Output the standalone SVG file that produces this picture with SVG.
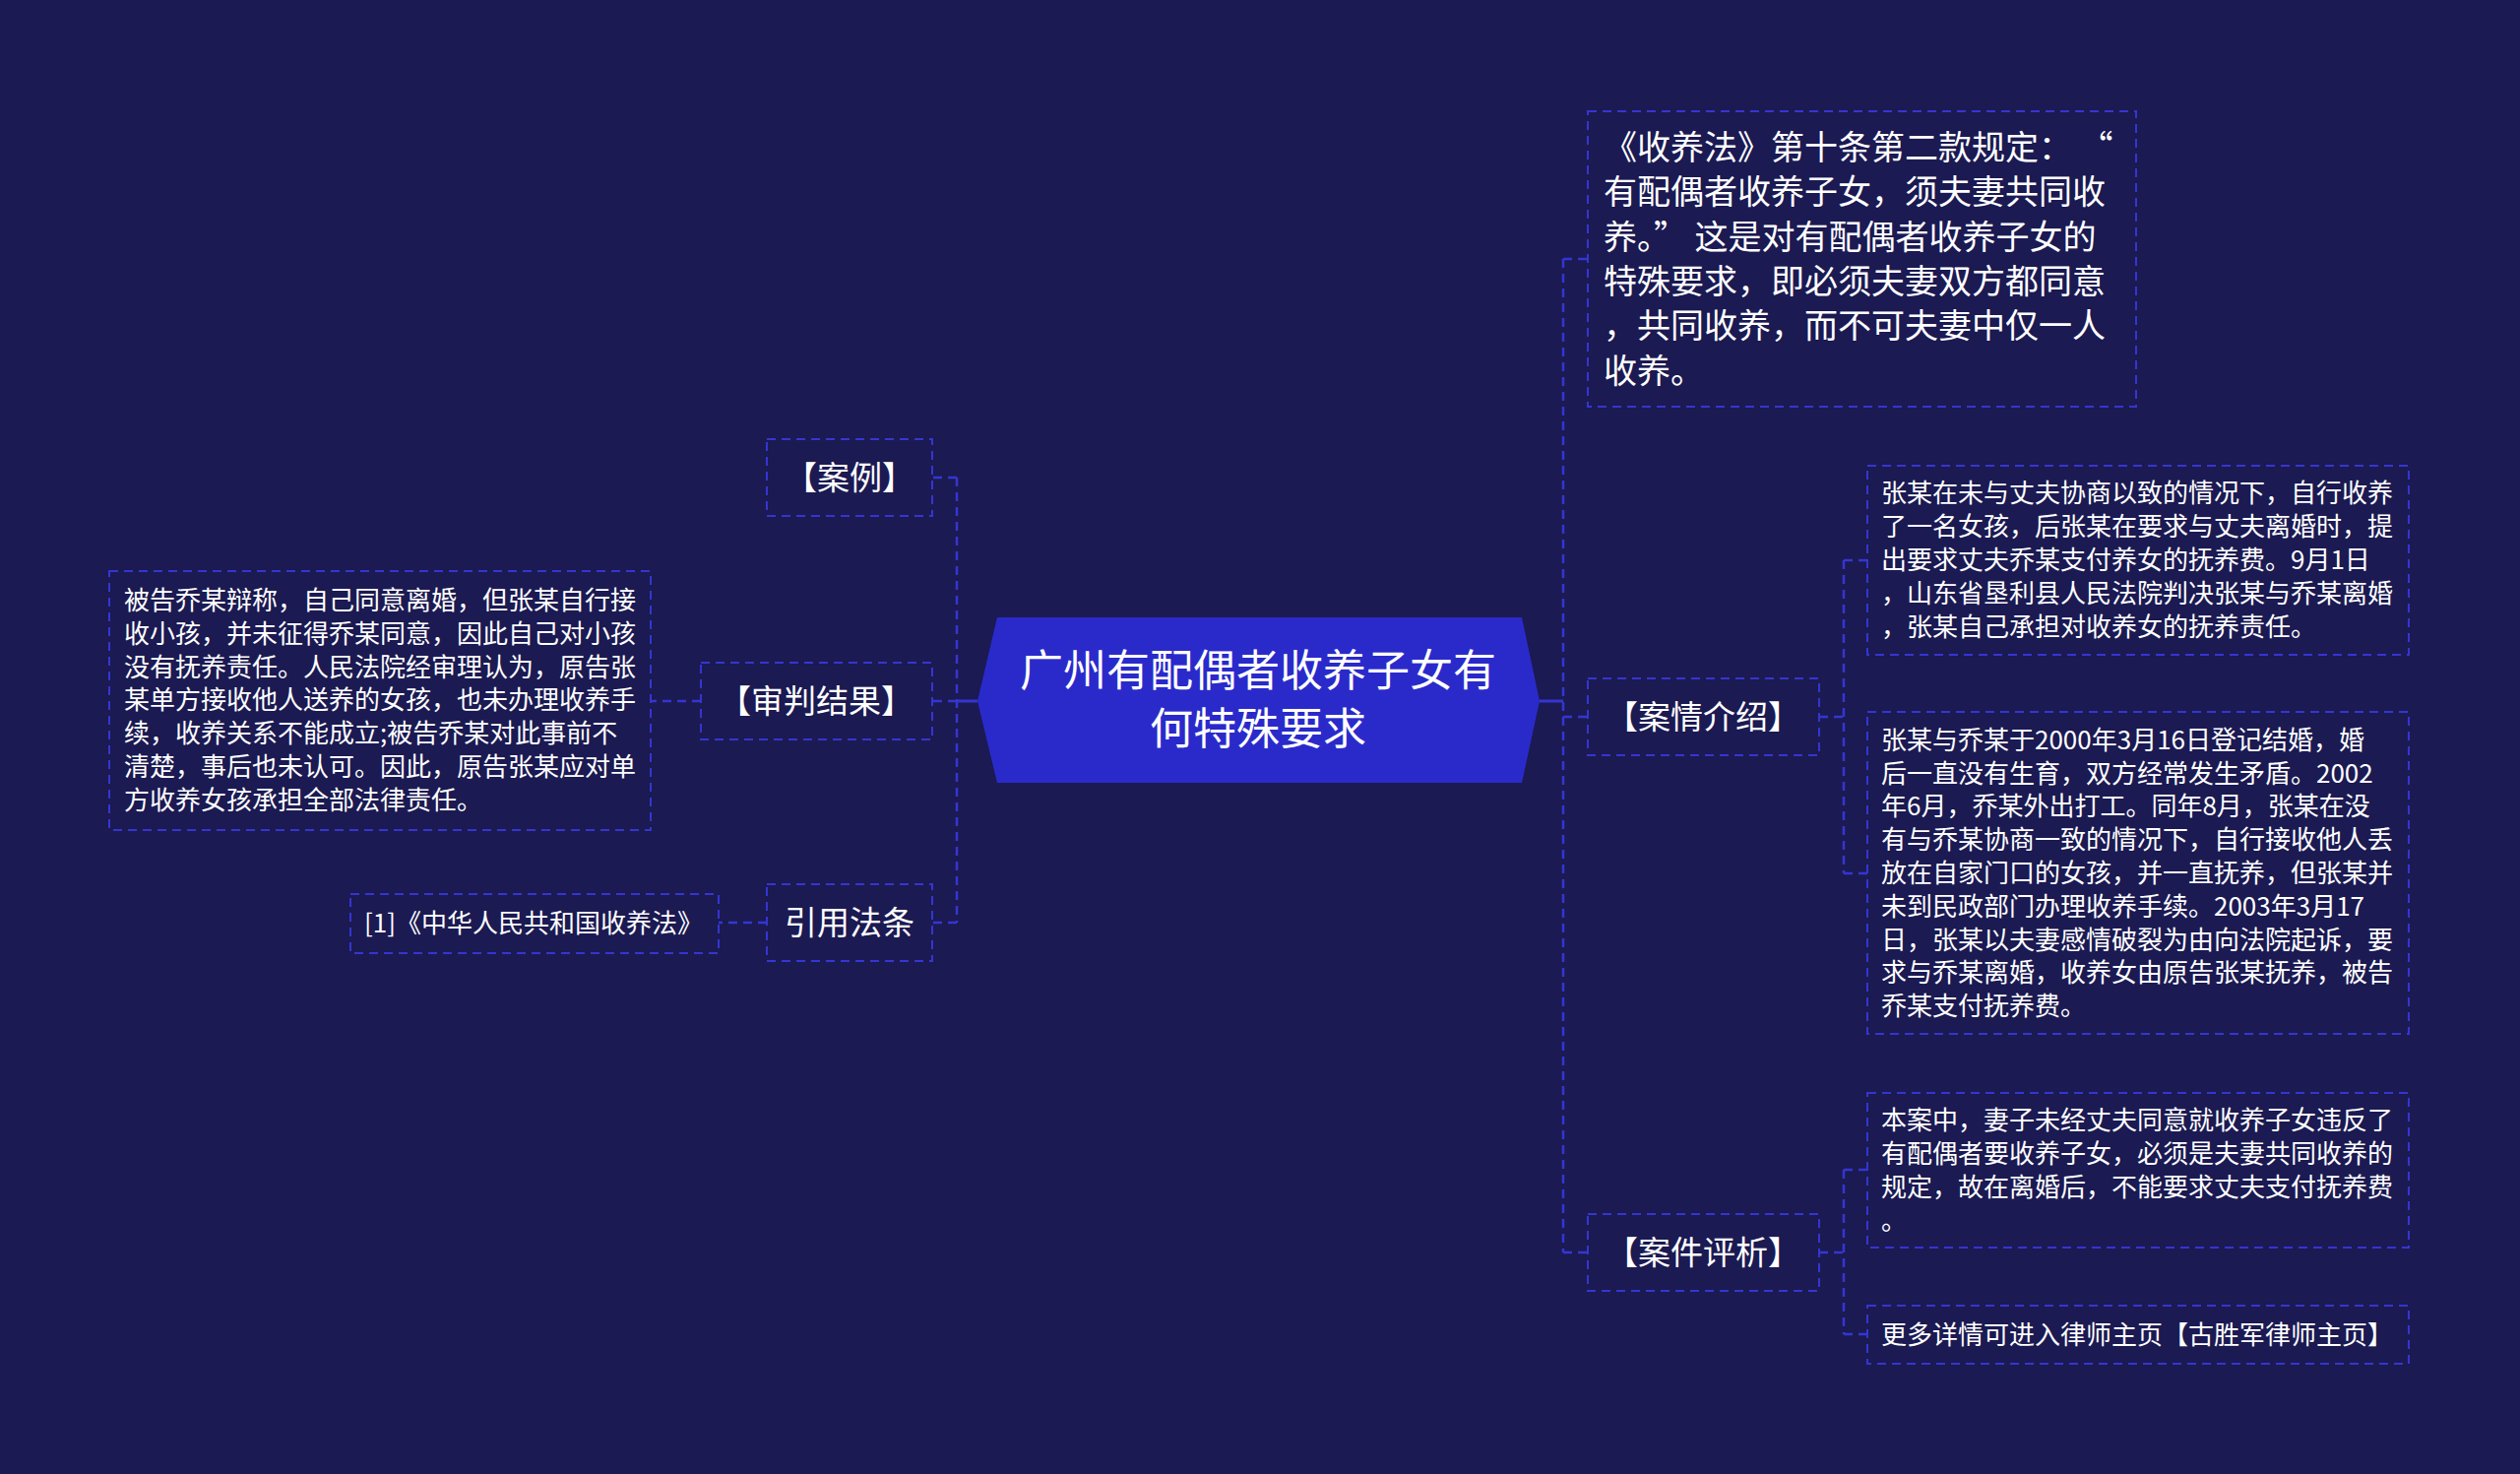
<svg xmlns="http://www.w3.org/2000/svg" width="2560" height="1497" viewBox="0 0 2560 1497">
<style>
.bg{fill:#1b1a52}
.box{fill:none;stroke:#3535d2;stroke-width:2;stroke-dasharray:9 6}
.link{fill:none;stroke:#3535d2;stroke-width:2.5;stroke-dasharray:9 6}
.solid{fill:none;stroke:#3535d2;stroke-width:3}
text{font-family:"Noto Sans CJK SC","Noto Sans",sans-serif;fill:#ffffff}
.lbl{font-size:33px;text-anchor:middle}
.big{font-size:34px}
.sm{font-size:26px}
.title{font-size:44px;text-anchor:middle}
</style>
<rect class="bg" x="0" y="0" width="2560" height="1497"/>

<g id="connectors">
  <path class="solid" d="M993 712 H972"/>
  <path class="link" d="M972 485 V937"/>
  <path class="link" d="M972 485 H947"/>
  <path class="link" d="M972 712 H947"/>
  <path class="link" d="M972 937 H947"/>
  <path class="link" d="M712 712 H661"/>
  <path class="link" d="M779 937 H730"/>
  <path class="solid" d="M1564 712 H1588"/>
  <path class="link" d="M1588 263 V1272"/>
  <path class="link" d="M1588 263 H1613"/>
  <path class="link" d="M1588 728 H1613"/>
  <path class="link" d="M1588 1272 H1613"/>
  <path class="link" d="M1848 728 H1873"/>
  <path class="link" d="M1873 569 V887"/>
  <path class="link" d="M1873 569 H1897"/>
  <path class="link" d="M1873 887 H1897"/>
  <path class="link" d="M1848 1272 H1873"/>
  <path class="link" d="M1873 1188 V1355"/>
  <path class="link" d="M1873 1188 H1897"/>
  <path class="link" d="M1873 1355 H1897"/>
</g>

<g id="center">
  <polygon points="993,712 1013,627 1546,627 1564,712 1546,795 1013,795" fill="#2a2acb"/>
  <text class="title" x="1278" y="697">广州有配偶者收养子女有</text>
  <text class="title" x="1278" y="756">何特殊要求</text>
</g>

<g id="node-law-quote">
  <rect class="box" x="1613" y="113" width="557" height="300"/>
  <text class="big" x="1629" y="162" xml:space="preserve">《收养法》第十条第二款规定： “</text>
  <text class="big" x="1629" y="207">有配偶者收养子女，须夫妻共同收</text>
  <text class="big" x="1629" y="253" xml:space="preserve">养。” 这是对有配偶者收养子女的</text>
  <text class="big" x="1629" y="298">特殊要求，即必须夫妻双方都同意</text>
  <text class="big" x="1629" y="343">，共同收养，而不可夫妻中仅一人</text>
  <text class="big" x="1629" y="389">收养。</text>
</g>

<g id="node-case-intro">
  <rect class="box" x="1613" y="689" width="235" height="78"/>
  <text class="lbl" x="1730" y="740">【案情介绍】</text>
</g>

<g id="node-case-analysis">
  <rect class="box" x="1613" y="1233" width="235" height="78"/>
  <text class="lbl" x="1730" y="1284">【案件评析】</text>
</g>

<g id="node-intro-1">
  <rect class="box" x="1897" y="473" width="550" height="192"/>
  <text class="sm" x="1911" y="510">张某在未与丈夫协商以致的情况下，自行收养</text>
  <text class="sm" x="1911" y="544">了一名女孩，后张某在要求与丈夫离婚时，提</text>
  <text class="sm" x="1911" y="578">出要求丈夫乔某支付养女的抚养费。9月1日</text>
  <text class="sm" x="1911" y="612">，山东省垦利县人民法院判决张某与乔某离婚</text>
  <text class="sm" x="1911" y="646">，张某自己承担对收养女的抚养责任。</text>
</g>

<g id="node-intro-2">
  <rect class="box" x="1897" y="723" width="550" height="327"/>
  <text class="sm" x="1911" y="761">张某与乔某于2000年3月16日登记结婚，婚</text>
  <text class="sm" x="1911" y="795">后一直没有生育，双方经常发生矛盾。2002</text>
  <text class="sm" x="1911" y="828">年6月，乔某外出打工。同年8月，张某在没</text>
  <text class="sm" x="1911" y="862">有与乔某协商一致的情况下，自行接收他人丢</text>
  <text class="sm" x="1911" y="896">放在自家门口的女孩，并一直抚养，但张某并</text>
  <text class="sm" x="1911" y="930">未到民政部门办理收养手续。2003年3月17</text>
  <text class="sm" x="1911" y="964">日，张某以夫妻感情破裂为由向法院起诉，要</text>
  <text class="sm" x="1911" y="997">求与乔某离婚，收养女由原告张某抚养，被告</text>
  <text class="sm" x="1911" y="1031">乔某支付抚养费。</text>
</g>

<g id="node-analysis-1">
  <rect class="box" x="1897" y="1110" width="550" height="157"/>
  <text class="sm" x="1911" y="1147">本案中，妻子未经丈夫同意就收养子女违反了</text>
  <text class="sm" x="1911" y="1181">有配偶者要收养子女，必须是夫妻共同收养的</text>
  <text class="sm" x="1911" y="1215">规定，故在离婚后，不能要求丈夫支付抚养费</text>
  <text class="sm" x="1911" y="1249">。</text>
</g>

<g id="node-analysis-2">
  <rect class="box" x="1897" y="1326" width="550" height="59"/>
  <text class="sm" x="1911" y="1365">更多详情可进入律师主页【古胜军律师主页】</text>
</g>

<g id="node-case">
  <rect class="box" x="779" y="446" width="168" height="78"/>
  <text class="lbl" x="863" y="497">【案例】</text>
</g>

<g id="node-verdict">
  <rect class="box" x="712" y="673" width="235" height="78"/>
  <text class="lbl" x="829" y="724">【审判结果】</text>
</g>

<g id="node-verdict-text">
  <rect class="box" x="111" y="580" width="550" height="263"/>
  <text class="sm" x="126" y="619">被告乔某辩称，自己同意离婚，但张某自行接</text>
  <text class="sm" x="126" y="653">收小孩，并未征得乔某同意，因此自己对小孩</text>
  <text class="sm" x="126" y="687">没有抚养责任。人民法院经审理认为，原告张</text>
  <text class="sm" x="126" y="720">某单方接收他人送养的女孩，也未办理收养手</text>
  <text class="sm" x="126" y="754">续，收养关系不能成立;被告乔某对此事前不</text>
  <text class="sm" x="126" y="788">清楚，事后也未认可。因此，原告张某应对单</text>
  <text class="sm" x="126" y="822">方收养女孩承担全部法律责任。</text>
</g>

<g id="node-cite">
  <rect class="box" x="779" y="898" width="168" height="78"/>
  <text class="lbl" x="863" y="949">引用法条</text>
</g>

<g id="node-cite-law">
  <rect class="box" x="356" y="908" width="374" height="60"/>
  <text class="sm" x="370" y="947">[1]《中华人民共和国收养法》</text>
</g>
</svg>
